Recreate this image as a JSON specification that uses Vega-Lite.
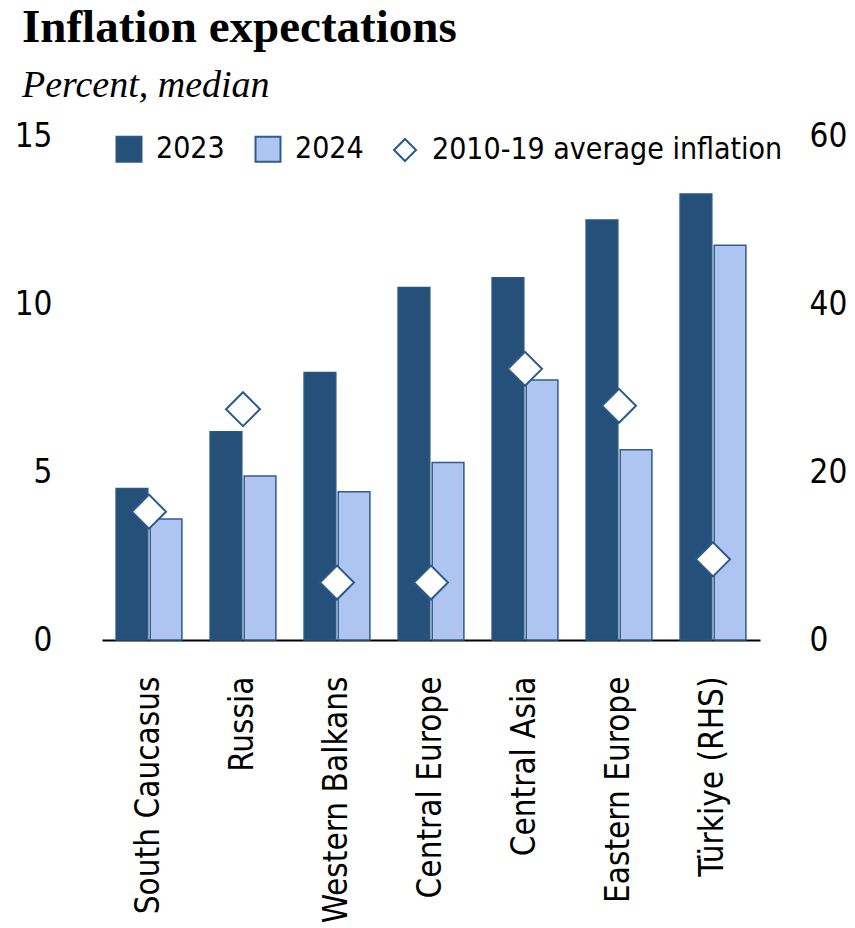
{
  "$schema": "https://vega.github.io/schema/vega-lite/v6.json",
  "width": 658,
  "height": 504,
  "autosize": {"type": "none"},
  "padding": {"left": 102, "top": 136, "right": 95, "bottom": 288},
  "background": "#ffffff",
  "config": {
    "view": {"stroke": null},
    "font": "DejaVu Sans Condensed, Roboto, sans-serif",
    "legend": {
      "orient": "none",
      "legendX": 12,
      "legendY": -2,
      "direction": "horizontal",
      "title": null,
      "symbolSize": 625,
      "symbolStrokeWidth": 2,
      "symbolOpacity": 1,
      "labelFont": "DejaVu Sans Condensed, Roboto, sans-serif",
      "labelFontSize": 30,
      "labelColor": "#000000",
      "labelOffset": 12,
      "columnPadding": 26,
      "labelLimit": 600
    }
  },
  "title": {
    "text": "Inflation expectations",
    "subtitle": "Percent, median",
    "anchor": "start",
    "frame": "group",
    "font": "Liberation Serif",
    "fontSize": 47,
    "fontWeight": "bold",
    "color": "#000000",
    "subtitleFont": "Liberation Serif",
    "subtitleFontSize": 38,
    "subtitleFontStyle": "italic",
    "subtitleColor": "#000000",
    "subtitlePadding": 15,
    "dx": -80,
    "offset": 14
  },
  "data": {
    "values": [
      {"region": "South Caucasus", "series": "2023", "value": 4.51},
      {"region": "South Caucasus", "series": "2024", "value": 3.6},
      {"region": "South Caucasus", "series": "2010-19 average inflation", "value": 3.82},
      {"region": "Russia", "series": "2023", "value": 6.2},
      {"region": "Russia", "series": "2024", "value": 4.88},
      {"region": "Russia", "series": "2010-19 average inflation", "value": 6.87},
      {"region": "Western Balkans", "series": "2023", "value": 7.96},
      {"region": "Western Balkans", "series": "2024", "value": 4.41},
      {"region": "Western Balkans", "series": "2010-19 average inflation", "value": 1.71},
      {"region": "Central Europe", "series": "2023", "value": 10.49},
      {"region": "Central Europe", "series": "2024", "value": 5.28},
      {"region": "Central Europe", "series": "2010-19 average inflation", "value": 1.71},
      {"region": "Central Asia", "series": "2023", "value": 10.78},
      {"region": "Central Asia", "series": "2024", "value": 7.74},
      {"region": "Central Asia", "series": "2010-19 average inflation", "value": 8.07},
      {"region": "Eastern Europe", "series": "2023", "value": 12.5},
      {"region": "Eastern Europe", "series": "2024", "value": 5.66},
      {"region": "Eastern Europe", "series": "2010-19 average inflation", "value": 6.97},
      {"region": "Türkiye (RHS)", "series": "2023", "value": 53.1},
      {"region": "Türkiye (RHS)", "series": "2024", "value": 47.0},
      {"region": "Türkiye (RHS)", "series": "2010-19 average inflation", "value": 9.6}
    ]
  },
  "encoding": {
    "x": {
      "field": "region",
      "type": "nominal",
      "title": null,
      "scale": {
        "domain": ["South Caucasus", "Russia", "Western Balkans", "Central Europe", "Central Asia", "Eastern Europe", "Türkiye (RHS)"],
        "paddingInner": 0.3,
        "paddingOuter": 0.15
      },
      "axis": {
        "labelAngle": -90,
        "labelFont": "DejaVu Sans Condensed, Roboto, sans-serif",
        "labelFontSize": 33,
        "labelColor": "#000000",
        "labelPadding": 36,
        "labelLimit": 400,
        "ticks": false,
        "domainColor": "#000000",
        "domainWidth": 2,
        "grid": false
      }
    }
  },
  "layer": [
    {
      "transform": [{"filter": "datum.region !== 'Türkiye (RHS)'"}],
      "encoding": {
        "y": {
          "field": "value",
          "type": "quantitative",
          "title": null,
          "scale": {"domain": [0, 15], "nice": false},
          "axis": {
            "orient": "left",
            "values": [0, 5, 10, 15],
            "domain": false,
            "ticks": false,
            "tickSize": 0,
            "grid": false,
            "labelFont": "DejaVu Sans Condensed, Roboto, sans-serif",
            "labelFontSize": 33,
            "labelColor": "#000000",
            "labelPadding": 50
          }
        }
      },
      "layer": [
        {
          "transform": [{"filter": "datum.series !== '2010-19 average inflation'"}],
          "mark": {"type": "bar", "strokeWidth": 1.5},
          "encoding": {
            "xOffset": {"field": "series", "type": "nominal", "scale": {"domain": ["2023", "2024"], "paddingInner": 0.07}},
            "fill": {"field": "series", "type": "nominal", "scale": {"domain": ["2023", "2024", "2010-19 average inflation"], "range": ["#245079", "#aec5f2", "#ffffff"]}},
            "stroke": {"field": "series", "type": "nominal", "scale": {"domain": ["2023", "2024", "2010-19 average inflation"], "range": ["#2a5682", "#2e5c8c", "#2b5a8a"]}}
          }
        },
        {
          "transform": [{"filter": "datum.series === '2010-19 average inflation'"}],
          "mark": {"type": "point", "filled": true, "size": 1490, "strokeWidth": 2, "opacity": 1},
          "encoding": {
            "fill": {"field": "series", "type": "nominal"},
            "stroke": {"field": "series", "type": "nominal"},
            "shape": {"field": "series", "type": "nominal", "scale": {"domain": ["2023", "2024", "2010-19 average inflation"], "range": ["square", "square", "M-0.88,0L0,-0.88L0.88,0L0,0.88Z"]}}
          }
        }
      ]
    },
    {
      "transform": [{"filter": "datum.region === 'Türkiye (RHS)'"}],
      "encoding": {
        "y": {
          "field": "value",
          "type": "quantitative",
          "title": null,
          "scale": {"domain": [0, 60], "nice": false},
          "axis": {
            "orient": "right",
            "values": [0, 20, 40, 60],
            "domain": false,
            "ticks": false,
            "tickSize": 0,
            "grid": false,
            "labelFont": "DejaVu Sans Condensed, Roboto, sans-serif",
            "labelFontSize": 33,
            "labelColor": "#000000",
            "labelPadding": 49
          }
        }
      },
      "layer": [
        {
          "transform": [{"filter": "datum.series !== '2010-19 average inflation'"}],
          "mark": {"type": "bar", "strokeWidth": 1.5},
          "encoding": {
            "xOffset": {"field": "series", "type": "nominal"},
            "fill": {"field": "series", "type": "nominal"},
            "stroke": {"field": "series", "type": "nominal"}
          }
        },
        {
          "transform": [{"filter": "datum.series === '2010-19 average inflation'"}],
          "mark": {"type": "point", "filled": true, "size": 1490, "strokeWidth": 2, "opacity": 1},
          "encoding": {
            "fill": {"field": "series", "type": "nominal"},
            "stroke": {"field": "series", "type": "nominal"},
            "shape": {"field": "series", "type": "nominal"}
          }
        }
      ]
    }
  ],
  "resolve": {"scale": {"y": "independent"}}
}
